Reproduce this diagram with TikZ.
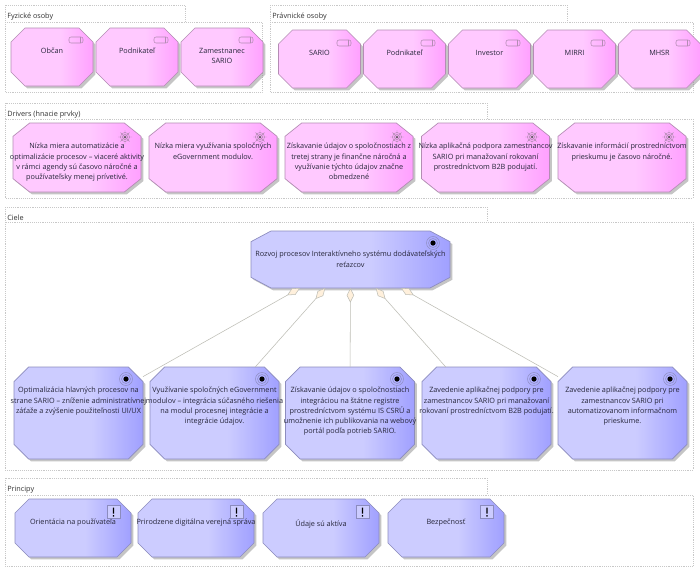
\documentclass[tikz,border=0pt]{standalone}
\usepackage{fontspec}
\setmainfont{Open Sans}
\usetikzlibrary{positioning,shadows,arrows.meta}
\definecolor{pinklight}{HTML}{FFC9FF}
\definecolor{pinkdark}{HTML}{FFA0FF}
\definecolor{bluelight}{HTML}{CCCCFF}
\definecolor{bluedark}{HTML}{A0A0FF}
\definecolor{pinkline}{HTML}{B48CB4}
\definecolor{blueline}{HTML}{8C8CBE}
\definecolor{groupline}{HTML}{C8C8C8}
\definecolor{aggrline}{HTML}{BDBDB5}
\definecolor{aggrfill}{HTML}{FFF0DC}
\definecolor{boxink}{HTML}{26263A}
\pgfdeclarehorizontalshading{pinkshade}{100bp}{color(0bp)=(pinklight); color(55bp)=(pinklight); color(75bp)=(pinkdark); color(100bp)=(pinkdark)}
\pgfdeclarehorizontalshading{blueshade}{100bp}{color(0bp)=(bluelight); color(55bp)=(bluelight); color(75bp)=(bluedark); color(100bp)=(bluedark)}
\newlength{\octcutx}
\newlength{\octcuty}
\setlength{\octcutx}{10.5pt}
\setlength{\octcuty}{10.5pt}
\makeatletter
\pgfdeclareshape{octshape}{
  \inheritsavedanchors[from=rectangle]
  \inheritanchorborder[from=rectangle]
  \inheritanchor[from=rectangle]{center}
  \inheritanchor[from=rectangle]{north}
  \inheritanchor[from=rectangle]{south}
  \inheritanchor[from=rectangle]{east}
  \inheritanchor[from=rectangle]{west}
  \backgroundpath{
    \southwest \pgf@xa=\pgf@x \pgf@ya=\pgf@y
    \northeast \pgf@xb=\pgf@x \pgf@yb=\pgf@y
    \pgfpathmoveto{\pgfpoint{\pgf@xa+\octcutx}{\pgf@ya}}
    \pgfpathlineto{\pgfpoint{\pgf@xb-\octcutx}{\pgf@ya}}
    \pgfpathlineto{\pgfpoint{\pgf@xb}{\pgf@ya+\octcuty}}
    \pgfpathlineto{\pgfpoint{\pgf@xb}{\pgf@yb-\octcuty}}
    \pgfpathlineto{\pgfpoint{\pgf@xb-\octcutx}{\pgf@yb}}
    \pgfpathlineto{\pgfpoint{\pgf@xa+\octcutx}{\pgf@yb}}
    \pgfpathlineto{\pgfpoint{\pgf@xa}{\pgf@yb-\octcuty}}
    \pgfpathlineto{\pgfpoint{\pgf@xa}{\pgf@ya+\octcuty}}
    \pgfpathclose
  }
}
\makeatother
\tikzset{
  octcut/.code 2 args={\setlength{\octcutx}{#1}\setlength{\octcuty}{#2}},
  octbox/.style={octshape, inner sep=0pt, outer sep=0pt, line width=.5pt,
    drop shadow={shadow xshift=1.8pt, shadow yshift=-1.8pt, opacity=.45, fill=black!50}},
  pinkbox/.style={octbox, draw=pinkline, shading=pinkshade},
  bluebox/.style={octbox, draw=blueline, shading=blueshade},
  actorbox/.style={octcut={10.5pt}{10.5pt}, pinkbox, minimum width=61.5pt, minimum height=43.5pt},
  driverbox/.style={octcut={12.5pt}{10pt}, pinkbox, minimum width=96pt, minimum height=51.75pt},
  goalbox/.style={octcut={11pt}{11pt}, bluebox, minimum width=96.75pt, minimum height=69pt},
  topbox/.style={octcut={15pt}{8pt}, bluebox, minimum width=149.25pt, minimum height=42.75pt},
  principlebox/.style={octcut={10.5pt}{10.5pt}, bluebox, minimum width=87pt, minimum height=43.5pt},
  boxtext/.style={inner sep=0pt, align=center, text=boxink, font=\fontsize{5.45pt}{7.7pt}\selectfont},
  grouptext/.style={inner sep=0pt, anchor=west, text=black!80, font=\fontsize{5.45pt}{7.7pt}\selectfont},
  grouprim/.style={draw=groupline, densely dotted, line width=.4pt, fill=white},
  aggr/.style={draw=aggrline, line width=.4pt, {Diamond[length=11pt, width=5.5pt, fill=aggrfill, color=aggrline]}-},
  actoricon/.pic={\draw [pinkline, line width=.4pt, rounded corners=1.5pt] (-7,-3) rectangle (7,3); \draw [pinkline, line width=.4pt] (4.5,-3) -- (4.5,3);},
  drivericon/.pic={\draw [pinkline, line width=.35pt] (0,0) circle (4.6) (0,0) circle (2.6);
    \draw [pinkline, line width=.35pt] (-7,0) -- (7,0) (0,-7) -- (0,7) (-4.5,-4.5) -- (4.5,4.5) (-4.5,4.5) -- (4.5,-4.5);
    \fill [black!70] (0,0) circle (1);},
  goalicon/.pic={\draw [blueline, line width=.35pt] (0,0) circle (6.5) (0,0) circle (4.5); \fill [black] (0,0) circle (2.6);},
  principleicon/.pic={\draw [blueline, line width=.5pt, fill=bluelight] (-6.5,-6.5) rectangle (6.5,6.5);
    \fill [black] (-.6,-4.5) rectangle (.6,1.5) (-.6,3) rectangle (.6,4.5);}
}
\begin{document}
\begin{tikzpicture}[x=0.75pt,y=-0.75pt]
\useasboundingbox (0,0) rectangle (700,572);
% groups
\draw [grouprim] (5,5) rectangle (185,22);
\draw [grouprim] (5,22) rectangle (262,92);
\draw [grouprim] (270,5) rectangle (567,22);
\draw [grouprim] (270,22) rectangle (693,92);
\draw [grouprim] (5,103) rectangle (487,119);
\draw [grouprim] (5,119) rectangle (693,198);
\draw [grouprim] (5,207) rectangle (487,222);
\draw [grouprim] (5,222) rectangle (693,470);
\draw [grouprim] (5,478) rectangle (487,495);
\draw [grouprim] (5,495) rectangle (693,566);
\node (fyzicke) [grouptext] at (7,17) {Fyzické osoby};
\node (pravnicke) [grouptext] at (272,17) {Právnické osoby};
\node (drivers) [grouptext] at (7,115) {Drivers (hnacie prvky)};
\node (ciele) [grouptext] at (7,218) {Ciele};
\node (principy) [grouptext] at (7,490) {Principy};
% fyzicke osoby
\node (f1) [actorbox] at (52,57) {};
\node (f2) [actorbox] at (137,57) {};
\node (f3) [actorbox] at (222,57) {};
\node (f1t) [boxtext, below=15pt of f1.north] {Občan};
\node (f2t) [boxtext, below=15pt of f2.north] {Podnikateľ};
\node (f3t) [boxtext, below=15pt of f3.north] {Zamestnanec\\SARIO};
\pic at (76,40) {actoricon};
\pic at (161,40) {actoricon};
\pic at (246,40) {actoricon};
% pravnicke osoby
\node (p1) [actorbox] at (319.5,59) {};
\node (p2) [actorbox] at (404.5,59) {};
\node (p3) [actorbox] at (489.5,59) {};
\node (p4) [actorbox] at (574.5,59) {};
\node (p5) [actorbox] at (659.5,59) {};
\node (p1t) [boxtext, below=15pt of p1.north] {SARIO};
\node (p2t) [boxtext, below=15pt of p2.north] {Podnikateľ};
\node (p3t) [boxtext, below=15pt of p3.north] {Investor};
\node (p4t) [boxtext, below=15pt of p4.north] {MIRRI};
\node (p5t) [boxtext, below=15pt of p5.north] {MHSR};
\pic at (344,43) {actoricon};
\pic at (428,43) {actoricon};
\pic at (513,43) {actoricon};
\pic at (598,43) {actoricon};
\pic at (683,43) {actoricon};
% drivers
\node (d1) [driverbox] at (77,157.5) {};
\node (d2) [driverbox] at (213,157.5) {};
\node (d3) [driverbox] at (349,157.5) {};
\node (d4) [driverbox] at (485.5,157.5) {};
\node (d5) [driverbox] at (622,157.5) {};
\node (d1t) [boxtext, below=15pt of d1.north] {Nízka miera automatizácie a\\optimalizácie procesov – viaceré aktivity\\v rámci agendy sú časovo náročné a\\používateľsky menej prívetivé.};
\node (d2t) [boxtext, below=15pt of d2.north] {Nízka miera využívania spoločných\\eGovernment modulov.};
\node (d3t) [boxtext, below=15pt of d3.north] {Získavanie údajov o spoločnostiach z\\tretej strany je finančne náročná a\\využívanie týchto údajov značne\\obmedzené};
\node (d4t) [boxtext, below=15pt of d4.north] {Nízka aplikačná podpora zamestnancov\\SARIO pri manažovaní rokovaní\\prostredníctvom B2B podujatí.};
\node (d5t) [boxtext, below=15pt of d5.north] {Získavanie informácií prostredníctvom\\prieskumu je časovo náročné.};
\pic at (125,137) {drivericon};
\pic at (260,137) {drivericon};
\pic at (397,137) {drivericon};
\pic at (532,137) {drivericon};
\pic at (669,137) {drivericon};
% ciele
\node (gtop) [topbox] at (350.5,259.5) {};
\node (g1) [goalbox] at (78.5,413) {};
\node (g2) [goalbox] at (214.5,413) {};
\node (g3) [goalbox] at (350,413) {};
\node (g4) [goalbox] at (486.5,413) {};
\node (g5) [goalbox] at (622.5,413) {};
\node (gtopt) [boxtext, below=15pt of gtop.north] {Rozvoj procesov Interaktívneho systému dodávateľských\\reťazcov};
\node (g1t) [boxtext, below=15pt of g1.north] {Optimalizácia hlavných procesov na\\strane SARIO – zníženie administratívnej\\záťaže a zvýšenie použiteľnosti UI/UX};
\node (g2t) [boxtext, below=15pt of g2.north] {Využívanie spoločných eGovernment\\modulov – integrácia súčasného riešenia\\na modul procesnej integrácie a\\integrácie údajov.};
\node (g3t) [boxtext, below=15pt of g3.north] {Získavanie údajov o spoločnostiach\\integráciou na štátne registre\\prostredníctvom systému IS CSRÚ a\\umožnenie ich publikovania na webový\\portál podľa potrieb SARIO.};
\node (g4t) [boxtext, below=15pt of g4.north] {Zavedenie aplikačnej podpory pre\\zamestnancov SARIO pri manažovaní\\rokovaní prostredníctvom B2B podujatí.};
\node (g5t) [boxtext, below=15pt of g5.north] {Zavedenie aplikačnej podpory pre\\zamestnancov SARIO pri\\automatizovanom informačnom\\prieskume.};
\pic at (433,243) {goalicon};
\pic at (126,379) {goalicon};
\pic at (262,379) {goalicon};
\pic at (397,379) {goalicon};
\pic at (534,379) {goalicon};
\pic at (670,379) {goalicon};
\draw [aggr] (gtop) -- (g1);
\draw [aggr] (gtop) -- (g2);
\draw [aggr] (gtop) -- (g3);
\draw [aggr] (gtop) -- (g4);
\draw [aggr] (gtop) -- (g5);
% principy
\node (r1) [principlebox] at (73,528) {};
\node (r2) [principlebox] at (196,528) {};
\node (r3) [principlebox] at (321,528) {};
\node (r4) [principlebox] at (446,528) {};
\node (r1t) [boxtext, below=15pt of r1.north] {Orientácia na používateľa};
\node (r2t) [boxtext, below=15pt of r2.north] {Prirodzene digitálna verejná správa};
\node (r3t) [boxtext, below=15pt of r3.north] {Údaje sú aktíva};
\node (r4t) [boxtext, below=15pt of r4.north] {Bezpečnosť};
\pic at (113.5,512) {principleicon};
\pic at (236.5,512) {principleicon};
\pic at (362.5,512) {principleicon};
\pic at (487,512) {principleicon};
\end{tikzpicture}
\end{document}
